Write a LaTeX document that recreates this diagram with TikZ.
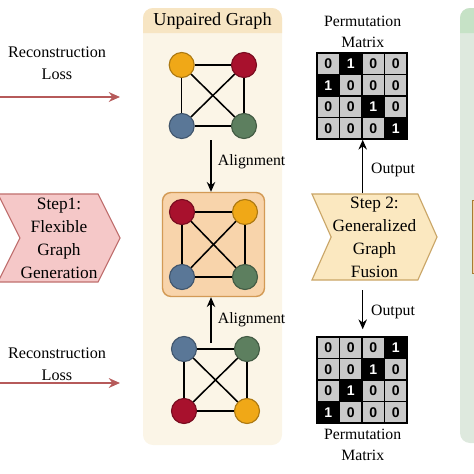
\documentclass[tikz,border=0pt]{standalone}
\usepackage{fontspec}
\setmainfont{Liberation Serif}
\setsansfont{Liberation Sans}
\usetikzlibrary{
  arrows.meta, calc, positioning, fit, backgrounds,
  shapes.symbols
}
\definecolor{lossred}{HTML}{B65A5A}
\definecolor{stepred}{HTML}{F5C8C8}
\definecolor{stepredline}{HTML}{C06F6E}
\definecolor{stepgold}{HTML}{FBE8C0}
\definecolor{stepgoldline}{HTML}{C9A566}
\definecolor{creambody}{HTML}{FBF5E7}
\definecolor{creamhead}{HTML}{F7E5C3}
\definecolor{greenbody}{HTML}{DEE9DE}
\definecolor{greenhead}{HTML}{C6E2C6}
\definecolor{peach}{HTML}{F8D4AB}
\definecolor{peachline}{HTML}{D39A55}
\definecolor{nodeorange}{HTML}{F0A817}
\definecolor{nodered}{HTML}{A8112D}
\definecolor{nodeblue}{HTML}{5A7797}
\definecolor{nodegreen}{HTML}{5D7F5F}
\definecolor{cellgray}{HTML}{C9C9C9}
\definecolor{brownbox}{HTML}{A87B35}
\tikzset{
  % Text labels
  losstext/.style={font=\fontsize{11.5pt}{15.5pt}\selectfont, align=center},
  smalltext/.style={font=\fontsize{11.2pt}{15pt}\selectfont, align=center},
  titletext/.style={font=\fontsize{13pt}{15pt}\selectfont},
  % Step chevrons
  stepsig/.style={
    signal, signal from=west, signal to=east, signal pointer angle=#1,
    inner sep=0pt, line width=0.8pt, align=center,
    font=\fontsize{12.3pt}{16.3pt}\selectfont,
  },
  % Graph vertices
  gnode/.style={
    circle, draw=#1!72!black, fill=#1, minimum size=0.625cm,
    inner sep=0pt, line width=0.8pt,
  },
  gedge/.style={line width=1.1pt, black},
  alignbox/.style={
    draw=peachline, fill=peach, rounded corners=6pt,
    inner sep=0.16cm, line width=1pt,
  },
  % Permutation matrix cells
  cell/.code={%
    \ifnum#1=1 \pgfkeysalso{fill=black, text=white}%
    \else \pgfkeysalso{fill=cellgray, text=black}\fi},
  cellbox/.style={
    draw=black, line width=1pt, minimum width=0.5625cm,
    minimum height=0.5375cm, inner sep=0pt,
    font=\sffamily\bfseries\fontsize{10pt}{10pt}\selectfont,
  },
  % Arrows
  lossarr/.style={-{Stealth[length=8pt, width=7pt]}, line width=1pt, lossred},
  arr/.style={-{Stealth[length=7pt, width=6pt]}, line width=1.1pt, black},
}

\begin{document}
\begin{tikzpicture}[x=0.025cm, y=-0.025cm]
  \useasboundingbox (0,0) rectangle (474,474);
  \clip (0,0) rectangle (474,474);

  % panels
  \begin{pgfonlayer}{background}
    \fill[creambody, rounded corners=0.25cm] (143,8) rectangle (282,445);
    \fill[creamhead] (143,33) [rounded corners=0.25cm] -- (143,8) -- (282,8)
      [sharp corners] -- (282,33) -- cycle;
    \fill[greenbody, rounded corners=0.25cm] (460,8) rectangle (520,443);
    \fill[greenhead] (460,33) [rounded corners=0.25cm] -- (460,8) -- (520,8)
      [sharp corners] -- (520,33) -- cycle;
  \end{pgfonlayer}
  \node[titletext] (unpaired) at (212.5,21) {Unpaired Graph};
  \node[draw=brownbox, fill=peach, line width=1pt, minimum width=1cm,
    minimum height=1.825cm, anchor=north west] (cutbox) at (472,200) {};

  % reconstruction losses
  \coordinate (rl1s) at (0,97);
  \coordinate (rl1e) at (120,97);
  \coordinate (rl2s) at (0,383);
  \coordinate (rl2e) at (120,383);
  \node[losstext] (loss1) at (57,63) {Reconstruction\\Loss};
  \node[losstext] (loss2) at (57,364) {Reconstruction\\Loss};
  \draw[lossarr] (rl1s) -- (rl1e);
  \draw[lossarr] (rl2s) -- (rl2e);

  % step 1
  \node[stepsig=127, draw=stepredline, fill=stepred,
    minimum width=3.05cm, minimum height=2.2cm] (step1) at (59,238)
    {Step1:\\Flexible\\Graph\\Generation};

  % unpaired graphs
  \node[gnode=nodeorange] (u-o) at (181.7,65) {};
  \node[gnode=nodered]    (u-r) at (244,65) {};
  \node[gnode=nodeblue]   (u-b) at (181.7,126) {};
  \node[gnode=nodegreen]  (u-g) at (244,126) {};

  \node[gnode=nodered]    (m-o) at (182,212) {};
  \node[gnode=nodeorange] (m-r) at (245,212) {};
  \node[gnode=nodeblue]   (m-b) at (182,277) {};
  \node[gnode=nodegreen]  (m-g) at (245,277) {};

  \node[gnode=nodeblue]   (l-o) at (184,349) {};
  \node[gnode=nodegreen]  (l-r) at (247,349) {};
  \node[gnode=nodered]    (l-b) at (184,411) {};
  \node[gnode=nodeorange] (l-g) at (247,411) {};

  \foreach \g in {u,m,l}
    \foreach \a/\b in {o/r,o/b,r/g,b/g,o/g,r/b}
      \draw[gedge] (\g-\a) -- (\g-\b);

  \begin{pgfonlayer}{background}
    \node[alignbox, fit=(m-o)(m-g)] (box) {};
  \end{pgfonlayer}

  \coordinate (al1) at (211,140);
  \coordinate (al2) at (211,343);
  \draw[arr] (al1) -- (al1 |- box.north);
  \draw[arr] (al2) -- (al2 |- box.south);
  \node[smalltext, anchor=west] (al1lab) at (213,162) {Alignment};
  \node[smalltext, anchor=west] (al2lab) at (213,320) {Alignment};

  % step 2
  \node[stepsig=132, draw=stepgoldline, fill=stepgold,
    minimum width=3.125cm, minimum height=2.15cm] (step2) at (374.5,237)
    {Step 2:\\Generalized\\Graph\\Fusion};

  % permutation matrices
  \foreach \row [count=\r] in {{0,1,0,0},{1,0,0,0},{0,0,1,0},{0,0,0,1}}
    \foreach \v [count=\c] in \row
      \node[cellbox, cell=\v] (pa-\r-\c)
        at ({317+22.5*(\c-0.5)},{53+21.5*(\r-0.5)}) {\v};
  \foreach \row [count=\r] in {{0,0,0,1},{0,0,1,0},{0,1,0,0},{1,0,0,0}}
    \foreach \v [count=\c] in \row
      \node[cellbox, cell=\v] (pb-\r-\c)
        at ({317+22.5*(\c-0.5)},{337+21.5*(\r-0.5)}) {\v};

  \node[smalltext, above=0pt of pa-1-2.north east] (pmtop)
    {Permutation\\Matrix};
  \node[smalltext, below=0pt of pb-4-2.south east] (pmbot)
    {Permutation\\Matrix};

  \draw[arr] (step2.north -| pa-4-2.south east) -- (pa-4-2.south east);
  \draw[arr, shorten <=7pt, shorten >=5pt]
    (step2.south -| pb-1-2.north east) -- (pb-1-2.north east);
  \node[smalltext] (out1) at (393,170) {Output};
  \node[smalltext] (out2) at (393,312) {Output};
\end{tikzpicture}
\end{document}
